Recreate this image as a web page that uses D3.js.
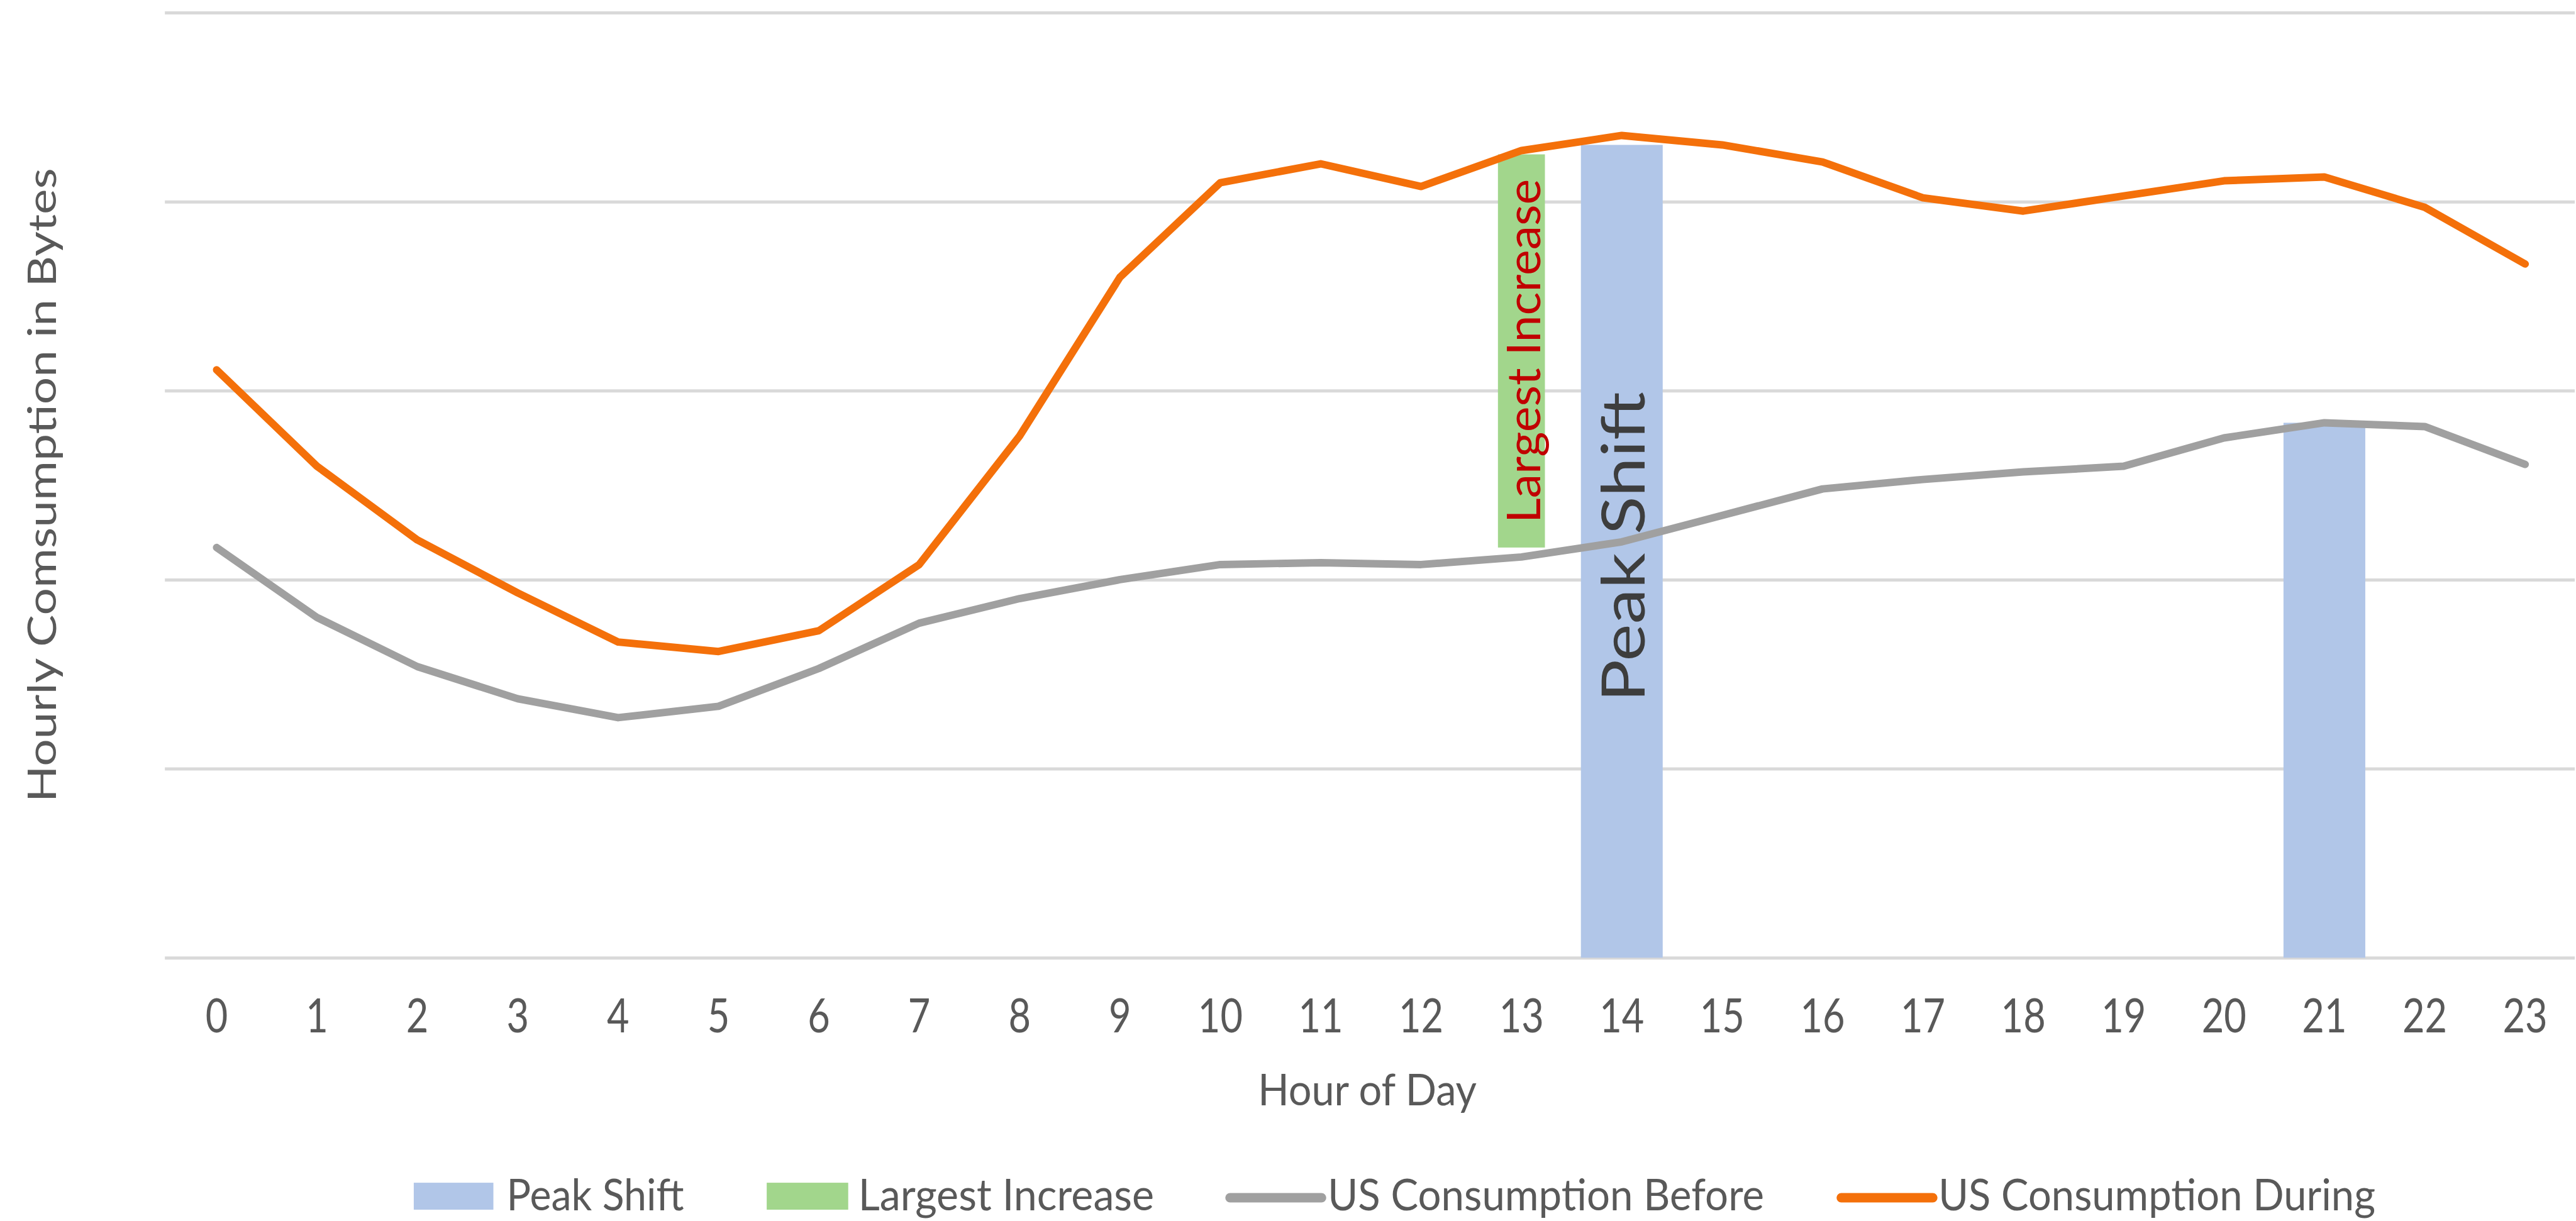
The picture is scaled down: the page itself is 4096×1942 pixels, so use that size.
<!DOCTYPE html>
<html><head><meta charset="utf-8">
<script src="https://cdn.jsdelivr.net/npm/d3@7"></script>
<style>html,body{margin:0;padding:0;background:#fff;overflow:hidden}</style>
</head><body>
<svg id="chart"></svg>
<script>
// ---- data ----
const hours = ["0","1","2","3","4","5","6","7","8","9","10","11","12","13","14","15","16","17","18","19","20","21","22","23"];
const usBefore = [2.17,1.80,1.54,1.37,1.27,1.33,1.53,1.77,1.90,2.00,2.08,2.09,2.08,2.12,2.20,2.34,2.48,2.53,2.57,2.60,2.75,2.83,2.81,2.61];
const usDuring = [3.11,2.60,2.21,1.93,1.67,1.62,1.73,2.08,2.76,3.60,4.10,4.20,4.08,4.27,4.35,4.30,4.21,4.02,3.95,4.03,4.11,4.13,3.97,3.67];
const peakShiftHours = ["14","21"];
const peakShiftValues = [4.30, 2.83];
const largestIncreaseHours = ["13"];
const largestIncreaseLow = [2.17];
const largestIncreaseHigh = [4.25];
const gridValues = [0,1,2,3,4,5];
const legendLabels = ["Peak Shift","Largest Increase","US Consumption Before","US Consumption During"];
const xTitle = "Hour of Day";
const yTitle = "Hourly Comsumption in Bytes";

// ---- styles ----
const FONT = "Lato, 'Open Sans', sans-serif";
const C = {blue:"#b1c6e8", green:"#a2d68c", gray:"#a0a0a0", orange:"#f4700a", grid:"#d9d9d9", text:"#595959", dark:"#3d3d3d", red:"#c00000"};

const svg = d3.select("#chart").attr("width",4096).attr("height",1942)
  .attr("viewBox","0 0 4109 1948").style("display","block");
svg.append("rect").attr("width",4109).attr("height",1948).attr("fill","#fff");

const x = d3.scaleBand().domain(hours).range([265.5, 4107.9]);
const y = d3.scaleLinear().domain([0,5]).range([1528,20]);
const cx = h => x(h) + x.bandwidth()/2;

// gridlines
svg.append("g").attr("transform","translate(263,0)")
  .call(d3.axisLeft(y).tickValues(gridValues).tickSize(-(4107-263)).tickFormat(""))
  .call(g=>{g.select(".domain").remove();g.selectAll("line").attr("stroke",C.grid).attr("stroke-width",5);});

// x axis labels
svg.append("g").attr("transform",`translate(0,${y(0)})`)
  .call(d3.axisBottom(x).tickSize(0))
  .call(g=>{
    g.select(".domain").remove();
    g.selectAll("text").attr("y",0).attr("dy",0)
      .attr("transform","translate(0,119) scale(0.82,1)")
      .attr("font-family",FONT).attr("font-size",75).attr("fill",C.text);
  });

// peak shift bars
const bw = x.step()*0.815;
svg.append("g").selectAll("rect").data(peakShiftHours).join("rect")
  .attr("x",h=>cx(h)-bw/2).attr("width",bw)
  .attr("y",(h,i)=>y(peakShiftValues[i])).attr("height",(h,i)=>y(0)-y(peakShiftValues[i]))
  .attr("fill",C.blue);

// largest increase bar
const gw = x.step()*0.468;
svg.append("g").selectAll("rect").data(largestIncreaseHours).join("rect")
  .attr("x",h=>cx(h)-gw/2).attr("width",gw)
  .attr("y",(h,i)=>y(largestIncreaseHigh[i])).attr("height",(h,i)=>y(largestIncreaseLow[i])-y(largestIncreaseHigh[i]))
  .attr("fill",C.green);

// lines
const line = d3.line().x((d,i)=>cx(hours[i])).y(d=>y(d));
svg.append("path").datum(usBefore).attr("d",line).attr("fill","none")
  .attr("stroke",C.gray).attr("stroke-width",12).attr("stroke-linejoin","round").attr("stroke-linecap","round");
svg.append("path").datum(usDuring).attr("d",line).attr("fill","none")
  .attr("stroke",C.orange).attr("stroke-width",12).attr("stroke-linejoin","round").attr("stroke-linecap","round");

// annotations
const psx = cx(peakShiftHours[0]) + 36, psy = y(0) - 408;
svg.append("text").attr("transform",`translate(${psx},${psy}) rotate(-90)`)
  .attr("font-family",FONT).attr("font-size",95).attr("fill",C.dark)
  .attr("textLength",495).attr("lengthAdjust","spacingAndGlyphs").text("Peak Shift");
const lix = cx(largestIncreaseHours[0]) + 30, liy = y(largestIncreaseLow[0]) - 39;
svg.append("text").attr("transform",`translate(${lix},${liy}) rotate(-90)`)
  .attr("font-family",FONT).attr("font-size",73).attr("fill",C.red)
  .attr("textLength",549).attr("lengthAdjust","spacingAndGlyphs").text("Largest Increase");

// axis titles
svg.append("text").attr("x",2181).attr("y",1763).attr("text-anchor","middle")
  .attr("font-family",FONT).attr("font-size",70).attr("fill",C.text)
  .attr("textLength",349).attr("lengthAdjust","spacingAndGlyphs").text(xTitle);
svg.append("text").attr("transform","translate(89,774) rotate(-90)").attr("text-anchor","middle")
  .attr("font-family",FONT).attr("font-size",62).attr("fill",C.text)
  .attr("textLength",1012).attr("lengthAdjust","spacingAndGlyphs").text(yTitle);

// legend
const leg = svg.append("g");
const legItems = [
  {type:"rect", color:C.blue, x0:660, x1:787, tx:808, tl:283},
  {type:"rect", color:C.green, x0:1223, x1:1353, tx:1369, tl:472},
  {type:"line", color:C.gray, x0:1962, x1:2108, tx:2118, tl:696},
  {type:"line", color:C.orange, x0:2937, x1:3083, tx:3092, tl:697}
];
legItems.forEach((it,i)=>{
  if(it.type==="rect"){
    leg.append("rect").attr("x",it.x0).attr("y",1887).attr("width",it.x1-it.x0).attr("height",43).attr("fill",it.color);
  } else {
    leg.append("line").attr("x1",it.x0).attr("x2",it.x1).attr("y1",1911).attr("y2",1911)
      .attr("stroke",it.color).attr("stroke-width",15).attr("stroke-linecap","round");
  }
  leg.append("text").attr("x",it.tx).attr("y",1931)
    .attr("font-family",FONT).attr("font-size",70).attr("fill",C.text)
    .attr("textLength",it.tl).attr("lengthAdjust","spacingAndGlyphs").text(legendLabels[i]);
});
</script>
</body></html>
